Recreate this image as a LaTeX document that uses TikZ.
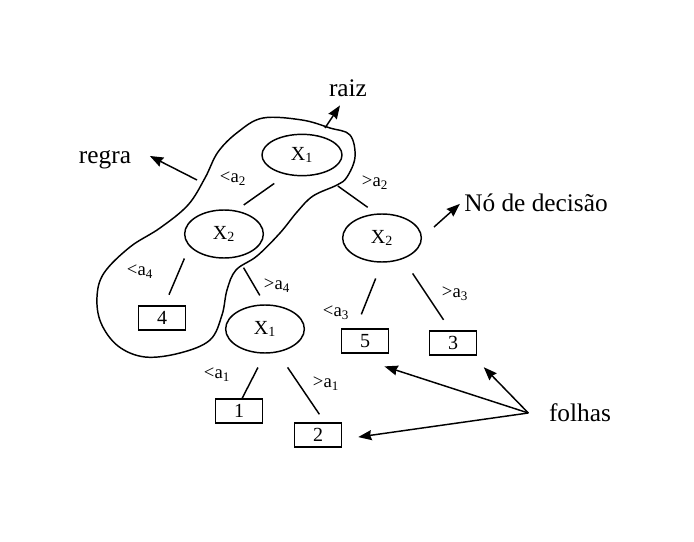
\documentclass[tikz,border=0pt]{standalone}
\usepackage{fontspec}
\setmainfont{Liberation Serif}
\usetikzlibrary{shapes.geometric,arrows.meta}

\begin{document}
\begin{tikzpicture}[x=0.75pt,y=-0.75pt,line width=1.1pt,
  test/.style={draw,ellipse,inner sep=0pt,minimum width=59pt,minimum height=36pt,
    font=\fontsize{15}{17}\selectfont},
  leaf/.style={draw,rectangle,inner sep=0pt,minimum width=35.5pt,minimum height=18pt,
    font=\fontsize{15}{17}\selectfont},
  cond/.style={inner sep=0pt,font=\fontsize{14}{16}\selectfont},
  tag/.style={inner sep=2pt,font=\fontsize{19}{21}\selectfont},
  pointer/.style={-{Stealth[length=10pt,width=7.5pt,inset=1pt]}}]

\useasboundingbox (0,0) rectangle (694,542);

% ---- decision nodes (ellipses) ----
\node[test,minimum height=31pt,minimum width=60pt] (root) at (302,155) {X\textsubscript{1}};
\node[test] (leftX)  at (224,234) {X\textsubscript{2}};
\node[test] (rightX) at (382,238) {X\textsubscript{2}};
\node[test] (lowX)   at (265,329) {X\textsubscript{1}};

% ---- leaves (boxes) ----
\foreach \n/\x/\y in {4/162/318,5/365/341,3/453/343,1/239/411,2/318/435}
  \node[leaf] (f\n) at (\x,\y) {\n};

% ---- branches: short strokes that stop before the nodes ----
\foreach \a/\b/\s/\e in {root.232/leftX.63/11.25pt/7.1pt,
                         root.315/rightX.103/15.6pt/8pt,
                         leftX.200/f4.79/9.75pt/8.6pt,
                         leftX.300/lowX.north/9pt/7.7pt,
                         rightX.south/f5.126/12.75pt/11.25pt,
                         rightX.315/f3.101/13pt/9.4pt,
                         lowX.south/f1.76/11.6pt/0pt,
                         lowX.298/f2.62/13.5pt/7.2pt}
  \draw[shorten <=\s,shorten >=\e] (\a) -- (\b);

% ---- branch conditions ----
\node[cond] (c1) at (233,179) {<a\textsubscript{2}};
\node[cond] (c2) at (375,183) {>a\textsubscript{2}};
\node[cond] (c3) at (140,272) {<a\textsubscript{4}};
\node[cond] (c4) at (277,286) {>a\textsubscript{4}};
\node[cond] (c5) at (336,313) {<a\textsubscript{3}};
\node[cond] (c6) at (455,294) {>a\textsubscript{3}};
\node[cond] (c7) at (217,375) {<a\textsubscript{1}};
\node[cond] (c8) at (326,384) {>a\textsubscript{1}};

% ---- the rule: hand-drawn loop round one path ----
\draw[line join=round] plot[smooth cycle,tension=0.6] coordinates {
  (263,118) (302,120) (330,128) (350,135) (355,157) (347,177) (337,185)
  (313,196) (297,212) (280,233) (257,256) (236,270) (227,290) (222,315)
  (210,340) (180,353) (145,357) (118,346) (101,323) (97,297) (104,273)
  (130,247) (160,228) (188,205) (205,178) (218,152) (238,132)};

% ---- call-outs ----
\node[tag] (raiz)   at (348,88)  {raiz};
\node[tag] (regra)  at (105,160) {regra};
\node[tag] (decide) at (536,203) {Nó de decisão};
\node[tag] (folhas) at (580,413) {folhas};

\coordinate (raizfrom)   at (325,128);
\coordinate (regrafrom)  at (197,180);
\coordinate (decidefrom) at (434,227);
\coordinate (fork)       at ([xshift=-13pt]folhas.west);

\draw[pointer,shorten >=5pt]  (raizfrom) -- (raiz.250);
\draw[pointer,shorten >=13pt] (regrafrom) -- (regra.22);
\draw[pointer,shorten >=1pt]  (decidefrom) -- (decide.west);
\draw[pointer,shorten >=30.8pt] (fork) -- (f5.213.7);
\draw[pointer,shorten >=12pt]   (fork) -- (f3.327);
\draw[pointer,shorten >=12pt]   (fork) -- (f2.350);

\end{tikzpicture}
\end{document}
